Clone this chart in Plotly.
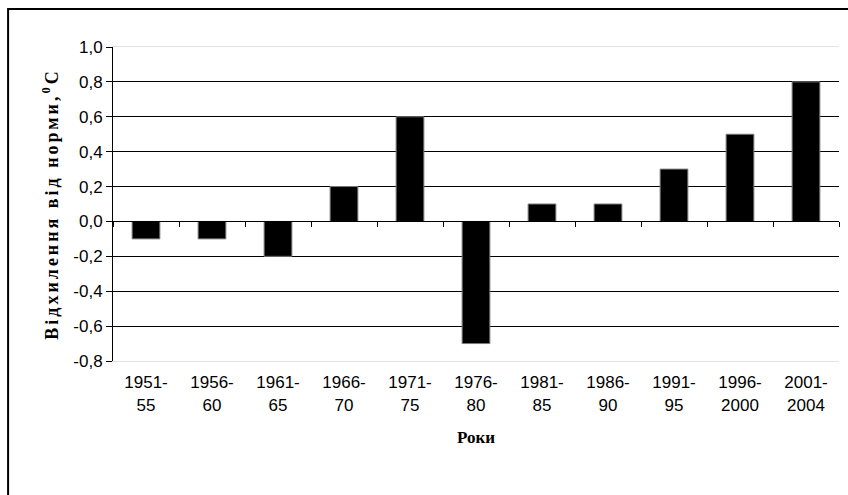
import plotly.graph_objects as go

periods = ["1951-55", "1956-60", "1961-65", "1966-70", "1971-75", "1976-80",
           "1981-85", "1986-90", "1991-95", "1996-2000", "2001-2004"]
period_labels = ["1951-<br>55", "1956-<br>60", "1961-<br>65", "1966-<br>70", "1971-<br>75",
                 "1976-<br>80", "1981-<br>85", "1986-<br>90", "1991-<br>95",
                 "1996-<br>2000", "2001-<br>2004"]
anomaly = [-0.1, -0.1, -0.2, 0.2, 0.6, -0.7, 0.1, 0.1, 0.3, 0.5, 0.8]

y_tickvals = [-0.8, -0.6, -0.4, -0.2, 0.0, 0.2, 0.4, 0.6, 0.8, 1.0]
y_ticktext = ["-0,8", "-0,6", "-0,4", "-0,2", "0,0", "0,2", "0,4", "0,6", "0,8", "1,0"]
inner_grid = [-0.6, -0.4, -0.2, 0.0, 0.2, 0.4, 0.6, 0.8]

sans = "Liberation Sans"
serif = "Liberation Serif"

fig = go.Figure()
fig.add_trace(go.Bar(
    x=periods, y=anomaly,
    marker=dict(color="black", line=dict(color="#7a7a7a", width=1)),
    width=0.42, showlegend=False, hoverinfo="x+y",
))
# invisible trace to carry the zero-line axis with boundary ticks
fig.add_trace(go.Bar(
    x=periods, y=[0] * len(periods), xaxis="x2",
    marker=dict(opacity=0), showlegend=False, hoverinfo="skip",
))

fig.update_layout(
    width=848, height=495,
    margin=dict(l=113, r=9, t=47, b=134),
    paper_bgcolor="white", plot_bgcolor="white",
    font=dict(family=sans, size=17, color="black"),
    bargap=0.58,
    xaxis=dict(
        type="category",
        tickmode="array", tickvals=periods, ticktext=period_labels,
        showgrid=False, zeroline=False,
        showline=True, linecolor="#e2e2e2", linewidth=1, mirror=True,
        ticks="outside", ticklen=6, tickcolor="rgba(0,0,0,0)",
        tickfont=dict(family=sans, size=17),
        title=dict(text="<b>Роки</b>", font=dict(family=serif, size=17), standoff=17),
        range=[-0.5, 10.5],
    ),
    xaxis2=dict(
        type="category", overlaying="x", anchor="free", position=0.8 / 1.8,
        range=[-0.5, 10.5], matches="x",
        showline=True, linecolor="black", linewidth=1,
        ticks="outside", tickson="boundaries", ticklen=5, tickcolor="black",
        showticklabels=False, showgrid=False, zeroline=False,
    ),
    yaxis=dict(
        range=[-0.8, 1.0],
        tickmode="array", tickvals=y_tickvals, ticktext=y_ticktext,
        showgrid=False, zeroline=True, zerolinecolor="black", zerolinewidth=1,
        showline=True, linecolor="black", linewidth=1,
        ticks="outside", ticklen=6, tickcolor="black",
        tickfont=dict(family=sans, size=17),
        minor=dict(tickmode="array", tickvals=inner_grid, showgrid=True,
                   gridcolor="black", gridwidth=1, ticks=""),
        title=dict(text="<b>Відхилення від норми,<sup>0</sup>С</b>",
                   font=dict(family=serif, size=18), standoff=10),
    ),
    shapes=[dict(type="rect", xref="paper", yref="paper",
                 x0=-0.1445, x1=1.05, y0=-0.5, y1=1.121,
                 line=dict(color="black", width=2), layer="above")],
)

post = """
document.body.style.margin = '0';
var ts = document.querySelectorAll('text.ytitle');
ts.forEach(function(t){ t.style.letterSpacing = '3px'; });
"""
fig.write_html("out.html", post_script=post, config={"displayModeBar": False})
